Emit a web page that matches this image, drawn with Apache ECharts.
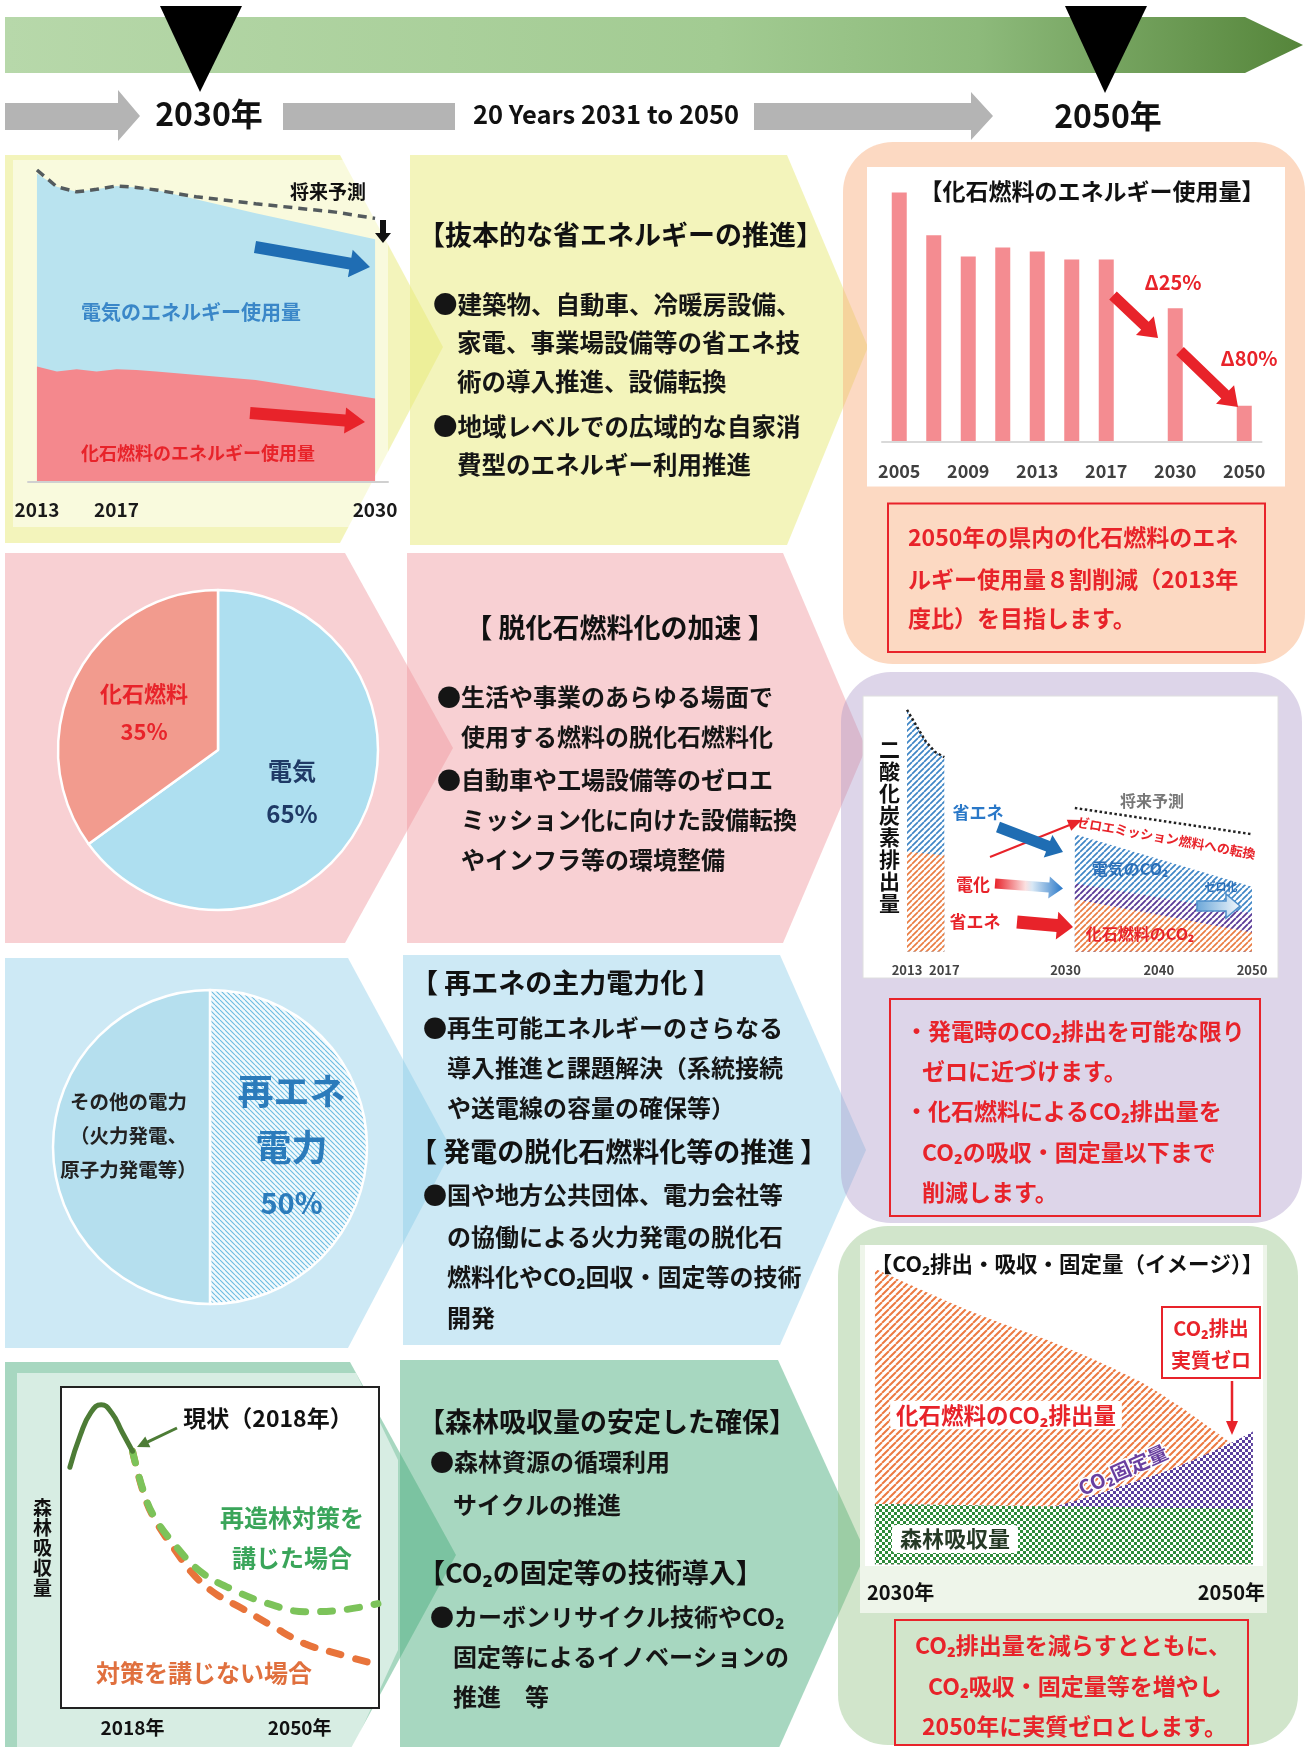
<!DOCTYPE html>
<html>
<head>
<meta charset="utf-8">
<script src="https://cdn.jsdelivr.net/npm/echarts@6.0.0/dist/echarts.min.js"></script>
<style>
  html, body { margin: 0; padding: 0; background: #fff; }
  #main { width: 1306px; height: 1747px; }
</style>
</head>
<body>
<div id="main"></div>
<script>
// ---- data ----
// energy use 2013-2030 (index, 2013 total = ~100)
const useYears = [2013, 2014, 2015, 2016, 2017, 2018, 2019, 2024, 2030];
const useTotal = [98.9, 94.6, 93.0, 93.8, 94.9, 94.4, 93.6, 86.1, 77.8];
const useFossil = [37.0, 35.4, 36.1, 35.4, 36.1, 35.9, 35.4, 32.7, 26.8];
const outlookYears = [2013, 2014, 2015, 2016, 2017, 2018, 2019, 2021, 2024, 2028, 2030];
const outlookValues = [100, 94.6, 93.0, 93.8, 94.9, 94.4, 93.6, 91.4, 89.2, 86.5, 84.5];

// fossil fuel energy use bars (2013 = 100)
const barCats = ['2005', '2007', '2009', '2011', '2013', '2015', '2017', '', '2030', '', '2050'];
const barValues = [131.1, 108.6, 97.4, 102.2, 100, 95.9, 95.9, null, 70.2, null, 19.0];

// energy share pies
const shareNames = ['電気', '化石燃料'];
const shareValues = [65, 35];
const powerNames = ['再エネ電力', 'その他の電力'];
const powerValues = [50, 50];

// CO2 emissions image (purple panel)
const co2HistYears = [2013, 2014, 2015, 2016, 2017];
const co2HistTotal = [96.1, 89.8, 83.6, 79.4, 77.3];
const co2HistFossilYears = [2013, 2017];
const co2HistFossil = [39.7, 38.3];
const co2FutYears = [2031, 2050];
const co2FutTotal = [46.7, 25.8];
const co2FutMid = [27.2, 15.3];
const co2FutFossil = [20.9, 7.7];
const co2OutlookYears = [2031, 2050];
const co2Outlook = [57.1, 46.7];
const co2Ticks = [2013, 2017, 2030, 2040, 2050];

// forest absorption
const forestPastYears = [2006, 2008, 2010, 2012, 2014, 2016, 2018];
const forestPast = [75, 85, 92, 94.5, 92, 86, 80];
const reforestYears = [2018, 2020, 2022, 2026, 2031, 2037, 2044, 2051, 2058, 2065];
const reforest = [80, 68, 60, 51, 42.5, 37, 32.5, 30, 30.5, 32.5];
const noActionYears = [2018, 2020, 2022, 2026, 2030, 2034, 2039, 2045, 2051, 2056, 2065];
const noAction = [80, 67.5, 59.5, 49.5, 41, 35.5, 31, 25.3, 20, 17.5, 13.4];
const forestTicks = [2018, 2050];

// CO2 emission / absorption / fixation image (green panel)
const emitYears = [2030, 2035, 2040, 2044, 2046, 2048, 2049, 2050];
const emitTop = [97.8, 83.9, 72, 60.6, 52.8, 44, 39.5, 36];
const fixYears = [2030, 2035, 2039, 2041, 2044, 2046, 2049, 2050];
const fixTop = [20, 19.5, 19, 21.8, 27.9, 32.3, 40.7, 44];
const sinkYears = [2030, 2035, 2040, 2045, 2050];
const sinkValues = [20, 19.6, 19.2, 18.8, 18.4];
const fixRange = [2029.58, 2050.64];
const fixTickLabels = ['2030年', '2050年'];

// ---- helpers ----
const JP = '"Noto Sans CJK JP", "Noto Sans", sans-serif';
const RED = '#e8232a';
const zip = (xs, ys) => xs.map((x, i) => [x, ys[i]]);

function hatch(bg, fg, size, lw, dir) {
  const c = document.createElement('canvas');
  c.width = c.height = size;
  const g = c.getContext('2d');
  g.fillStyle = bg; g.fillRect(0, 0, size, size);
  g.strokeStyle = fg; g.lineWidth = lw; g.beginPath();
  [-size, 0, size].forEach(k => {
    if (dir > 0) { g.moveTo(k, size); g.lineTo(k + size, 0); }
    else { g.moveTo(k, 0); g.lineTo(k + size, size); }
  });
  g.stroke();
  return { image: c, repeat: 'repeat' };
}
function checker(bg, fg, cell) {
  const c = document.createElement('canvas');
  c.width = c.height = cell * 2;
  const g = c.getContext('2d');
  g.fillStyle = bg; g.fillRect(0, 0, cell * 2, cell * 2);
  g.fillStyle = fg; g.fillRect(0, 0, cell, cell); g.fillRect(cell, cell, cell, cell);
  return { image: c, repeat: 'repeat' };
}
const pat = {
  blue: hatch('#ffffff', '#3f86c6', 6, 1.7, 1),
  orange: hatch('#ffffff', '#ea7d42', 6, 1.7, 1),
  purple: hatch('#ffffff', '#5b3c98', 6, 1.9, 1),
  fixOrange: hatch('#ffffff', '#ec7a42', 7, 2, 1),
  fixPurple: checker('#ffffff', '#5a3f9e', 3),
  fixGreen: checker('#ffffff', '#2e8b3a', 3),
  pie: hatch('#f2fafd', '#6cbce2', 5, 1.1, -1)
};

function text(x, y, t, size, color, align, more) {
  const style = Object.assign({
    text: t, font: 'bold ' + size + 'px ' + JP, fill: color || '#111',
    textAlign: align || 'left', align: align || 'left',
    textVerticalAlign: 'middle', verticalAlign: 'middle'
  }, more || {});
  return { type: 'text', x: x, y: y, z: 10, silent: true, style: style };
}
function poly(points, fill, z, extra) {
  return { type: 'polygon', z: z || 0, silent: true, shape: { points: points }, style: Object.assign({ fill: fill }, extra || {}) };
}
function rect(x, y, w, h, style, z, r) {
  return { type: 'rect', z: z || 0, silent: true, shape: { x: x, y: y, width: w, height: h, r: r || 0 }, style: style };
}
function arrow(x1, y1, x2, y2, sw, hw, hl, fill, z, extra) {
  const dx = x2 - x1, dy = y2 - y1, L = Math.hypot(dx, dy);
  const ux = dx / L, uy = dy / L, nx = -uy, ny = ux;
  const bx = x2 - ux * hl, by = y2 - uy * hl;
  const p = [
    [x1 + nx * sw / 2, y1 + ny * sw / 2], [bx + nx * sw / 2, by + ny * sw / 2],
    [bx + nx * hw / 2, by + ny * hw / 2], [x2, y2],
    [bx - nx * hw / 2, by - ny * hw / 2], [bx - nx * sw / 2, by - ny * sw / 2],
    [x1 - nx * sw / 2, y1 - ny * sw / 2]
  ];
  return poly(p, fill, z || 10, extra);
}
function lines(arr, size, color) {
  return arr.map(l => text(l[1], l[2], l[0], size, color));
}

// ---- backgrounds and decorations ----
const g = [];
// timeline banner
g.push(poly([[5, 17], [1245, 17], [1303, 45], [1245, 73], [5, 73]], {
  type: 'linear', x: 0, y: 0, x2: 1, y2: 0,
  colorStops: [{ offset: 0, color: '#b7d8aa' }, { offset: 0.55, color: '#a2cb92' }, { offset: 0.75, color: '#8dba7b' }, { offset: 1, color: '#55853a' }]
}, 1));
g.push(poly([[160, 6], [242, 6], [200, 92]], '#000', 2));
g.push(poly([[1065, 6], [1147, 6], [1105, 93]], '#000', 2));
g.push(poly([[5, 103], [118, 103], [118, 90], [140, 116], [118, 141], [118, 130], [5, 130]], '#b4b4b4', 1));
g.push(rect(283, 103, 172, 27, { fill: '#b4b4b4' }, 1));
g.push(poly([[754, 103], [971, 103], [971, 92], [993, 116], [971, 140], [971, 130], [754, 130]], '#b4b4b4', 1));
g.push(text(209, 114, '2030年', 32, '#111', 'center'));
g.push(text(606, 114, '20 Years 2031 to 2050', 25.5, '#111', 'center'));
g.push(text(1108, 116, '2050年', 32, '#111', 'center'));

// row panels
const yel = 'rgba(232,234,120,0.5)', pink = 'rgba(240,150,158,0.45)', blu = 'rgba(130,200,230,0.4)', grn = 'rgba(80,175,130,0.5)';
g.push(poly([[5, 155], [340, 155], [443, 347], [340, 543], [5, 543]], yel));
g.push(poly([[410, 155], [787, 155], [868, 347], [787, 545], [410, 545]], yel));
g.push(rect(13, 160, 375, 367, { fill: 'rgba(255,255,255,0.5)' }));
g.push(poly([[5, 553], [345, 553], [453, 748], [345, 943], [5, 943]], pink));
g.push(poly([[407, 553], [783, 553], [866, 748], [783, 943], [407, 943]], pink));
g.push(poly([[5, 958], [348, 958], [452, 1150], [348, 1348], [5, 1348]], blu));
g.push(poly([[403, 955], [780, 955], [866, 1150], [780, 1345], [403, 1345]], blu));
g.push(poly([[5, 1362], [350, 1362], [456, 1555], [350, 1750], [5, 1750]], grn));
g.push(poly([[400, 1360], [778, 1360], [866, 1553], [778, 1750], [400, 1750]], grn));
g.push(poly([[17, 1373], [356, 1373], [398, 1460], [398, 1650], [352, 1750], [17, 1750]], 'rgba(255,255,255,0.55)'));

// right column boxes
g.push(rect(843, 142, 462, 522, { fill: 'rgba(248,170,120,0.45)' }, 0, 50));
g.push(rect(841, 672, 461, 551, { fill: 'rgba(170,150,200,0.4)' }, 0, 50));
g.push(rect(838, 1226, 460, 519, { fill: 'rgba(140,190,125,0.4)' }, 0, 50));
g.push(rect(867, 167, 418, 319.5, { fill: '#fff' }, 1));
g.push(rect(863, 696, 415, 282, { fill: '#fff', stroke: '#dedede', lineWidth: 1 }, 1));
g.push(rect(860, 1245, 407, 368, { fill: '#eef5ea' }, 1));
g.push(rect(865, 1245, 398, 321, { fill: '#fff' }, 1));
g.push(rect(61, 1387, 318, 321, { fill: '#fff', stroke: '#222', lineWidth: 2 }, 1));

// row 1 left chart notes
g.push(text(328, 192, '将来予測', 19, '#111', 'center'));
g.push(arrow(383, 220, 383, 243, 6, 16, 10, '#111'));
g.push(text(191, 312, '電気のエネルギー使用量', 20, '#3a87c8', 'center'));
g.push(text(198, 453, '化石燃料のエネルギー使用量', 18, RED, 'center'));
g.push(arrow(255, 247, 370, 267, 12, 28, 20, '#1f6db3'));
g.push(arrow(250, 413, 365, 422, 12, 26, 20, RED));

// row 1 text
g.push(text(418, 235, '【抜本的な省エネルギーの推進】', 27, '#111'));
g.push(...lines([
  ['●建築物、自動車、冷暖房設備、', 433, 305],
  ['家電、事業場設備等の省エネ技', 457, 343],
  ['術の導入推進、設備転換', 457, 382],
  ['●地域レベルでの広域的な自家消', 433, 427],
  ['費型のエネルギー利用推進', 457, 465]
], 24.5, '#151515'));

// bar chart notes
g.push(text(1092, 191, '【化石燃料のエネルギー使用量】', 23, '#111', 'center'));
g.push(text(1173, 282, 'Δ25%', 20, RED, 'center'));
g.push(text(1249, 358, 'Δ80%', 20, RED, 'center'));
g.push(arrow(1113, 295.5, 1158, 338, 11, 26, 18, RED));
g.push(arrow(1180, 351, 1238, 407, 11, 26, 18, RED));
g.push(rect(888, 503.5, 377, 148.5, { fill: 'none', stroke: RED, lineWidth: 2 }, 10));
g.push(...lines([
  ['2050年の県内の化石燃料のエネ', 908, 537],
  ['ルギー使用量８割削減（2013年', 908, 579.5],
  ['度比）を目指します。', 908, 618.5]
], 23, RED));

// row 2 text
g.push(text(620, 628, '【 脱化石燃料化の加速 】', 27, '#111', 'center'));
g.push(...lines([
  ['●生活や事業のあらゆる場面で', 437, 697],
  ['使用する燃料の脱化石燃料化', 461, 737],
  ['●自動車や工場設備等のゼロエ', 437, 780],
  ['ミッション化に向けた設備転換', 461, 820],
  ['やインフラ等の環境整備', 461, 860]
], 24, '#151515'));

// CO2 image notes (purple panel)
g.push(rect(1150, 845, 104, 80, {
  fill: { type: 'linear', x: 0, y: 0, x2: 1, y2: 0, colorStops: [{ offset: 0, color: 'rgba(255,255,255,0)' }, { offset: 1, color: 'rgba(255,255,255,0.8)' }] }
}, 3));
g.push(text(1152, 801, '将来予測', 16, '#777', 'center'));
g.push(arrow(990, 857, 1082, 820, 2, 12, 14, RED));
g.push(text(1166, 838, 'ゼロエミッション燃料への転換', 13, RED, 'center'));
g[g.length - 1].rotation = -0.18;
g.push(text(978, 813, '省エネ', 17, '#2a78c8', 'center'));
g.push(arrow(998, 827, 1063, 852, 11, 24, 16, '#1f6db3'));
g.push(text(973, 885, '電化', 17, RED, 'center'));
g.push(arrow(995, 883.5, 1063, 888.5, 10, 22, 14, {
  type: 'linear', x: 0, y: 0, x2: 1, y2: 0,
  colorStops: [{ offset: 0, color: RED }, { offset: 0.45, color: '#fbe0e0' }, { offset: 0.55, color: '#d8e8f5' }, { offset: 1, color: '#2a78c8' }]
}));
g.push(text(975, 922, '省エネ', 17, RED, 'center'));
g.push(arrow(1017, 922, 1073, 927, 13, 28, 16, RED));
g.push(text(1130, 869, '電気のCO₂', 16, '#2a6fb8', 'center'));
g.push(text(1140, 934, '化石燃料のCO₂', 16, RED, 'center'));
g.push(text(1221, 887, 'ゼロ化', 11, '#2a6fb8', 'center'));
g.push(arrow(1197, 906, 1240, 906, 10, 24, 14, {
  type: 'linear', x: 0, y: 0, x2: 1, y2: 0,
  colorStops: [{ offset: 0, color: '#6aa6d8' }, { offset: 1, color: '#f4f9fd' }]
}, 10, { stroke: '#4f8fca', lineWidth: 1.5 }));
g.push(rect(890, 999, 370, 217, { fill: 'none', stroke: RED, lineWidth: 2 }, 10));
g.push(...lines([
  ['・発電時のCO₂排出を可能な限り', 905, 1031],
  ['ゼロに近づけます。', 922, 1071],
  ['・化石燃料によるCO₂排出量を', 905, 1111.5],
  ['CO₂の吸収・固定量以下まで', 922, 1152],
  ['削減します。', 922, 1192]
], 23, RED));

// row 3 text
g.push(...lines([
  ['【 再エネの主力電力化 】', 411, 983],
  ['【 発電の脱化石燃料化等の推進 】', 410, 1152]
], 27, '#111'));
g.push(...lines([
  ['●再生可能エネルギーのさらなる', 423, 1028],
  ['導入推進と課題解決（系統接続', 447, 1068],
  ['や送電線の容量の確保等）', 447, 1108],
  ['●国や地方公共団体、電力会社等', 423, 1195],
  ['の協働による火力発電の脱化石', 447, 1237],
  ['燃料化やCO₂回収・固定等の技術', 447, 1277],
  ['開発', 447, 1318]
], 24, '#151515'));

// forest chart notes
g.push(text(268, 1418, '現状（2018年）', 23, '#111', 'center'));
g.push(arrow(177, 1428, 137, 1447, 3, 12, 12, '#4d7c36'));
g.push(text(292, 1518, '再造林対策を', 24, '#3aa55a', 'center'));
g.push(text(292, 1558, '講じた場合', 24, '#3aa55a', 'center'));
g.push(text(204, 1673, '対策を講じない場合', 24, '#e0703e', 'center'));

// row 4 text
g.push(...lines([
  ['【森林吸収量の安定した確保】', 418, 1422],
  ['【CO₂の固定等の技術導入】', 418, 1573]
], 27, '#111'));
g.push(...lines([
  ['●森林資源の循環利用', 430, 1462],
  ['サイクルの推進', 453, 1505],
  ['●カーボンリサイクル技術やCO₂', 430, 1617],
  ['固定等によるイノベーションの', 453, 1657],
  ['推進　等', 453, 1697]
], 24, '#151515'));

// CO2 fixation image notes
g.push(text(1067, 1264, '【CO₂排出・吸収・固定量（イメージ）】', 21.5, '#111', 'center'));
g.push(text(1006, 1415, '化石燃料のCO₂排出量', 22.5, RED, 'center', { backgroundColor: '#fff', padding: [3, 6], borderRadius: 4 }));
g.push(text(955, 1539, '森林吸収量', 22, '#263a26', 'center', { backgroundColor: '#fff', padding: [3, 8], borderRadius: 4 }));
g.push(text(1123, 1470, 'CO₂固定量', 20, '#6a3fa0', 'center', { stroke: '#fff', lineWidth: 3 }));
g[g.length - 1].rotation = 0.42;
g.push(rect(1162, 1307, 98, 71, { fill: '#fff', stroke: RED, lineWidth: 2 }, 10));
g.push(text(1211, 1328, 'CO₂排出', 20, RED, 'center'));
g.push(text(1211, 1360, '実質ゼロ', 20, RED, 'center'));
g.push(arrow(1232, 1381, 1232, 1435, 2.5, 12, 14, RED));
g.push(rect(895, 1620, 353, 125, { fill: 'none', stroke: RED, lineWidth: 2 }, 10));
g.push(...lines([
  ['CO₂排出量を減らすとともに、', 915, 1645],
  ['CO₂吸収・固定量等を増やし', 928, 1686],
  ['2050年に実質ゼロとします。', 922, 1726]
], 23, RED));

// ---- axes ----
const hidden = { axisLine: { show: false }, axisTick: { show: false }, axisLabel: { show: false }, splitLine: { show: false } };
const lbl = (size, color, margin) => ({ fontSize: size, fontWeight: 'bold', color: color, fontFamily: JP, margin: margin });

const grids = [
  { left: 28, top: 170, width: 360, height: 312 },
  { left: 882, top: 175.5, width: 379.5, height: 266.4 },
  { left: 907, top: 700, width: 345, height: 251.8 },
  { left: 61, top: 1387, width: 318, height: 321 },
  { left: 867, top: 1262, width: 398, height: 302.5 }
].map(gr => Object.assign({ outerBoundsMode: 'none', containLabel: false }, gr));

const xAxes = [
  { gridIndex: 0, type: 'value', min: 2012.55, max: 2030.65, z: 4,
    axisLine: { lineStyle: { color: '#d0d0d0', width: 2 } }, axisTick: { show: false }, splitLine: { show: false },
    axisLabel: Object.assign(lbl(19, '#1a1a1a', 18), { customValues: [2013, 2017, 2030], formatter: v => String(v) }) },
  { gridIndex: 1, type: 'category', data: barCats, z: 4,
    axisLine: { lineStyle: { color: '#d9d9d9', width: 2 } }, axisTick: { show: false },
    axisLabel: Object.assign(lbl(18, '#404040', 20), { interval: 1 }) },
  { gridIndex: 2, type: 'value', min: 2013, max: 2050, z: 4,
    axisLine: { show: false }, axisTick: { show: false }, splitLine: { show: false },
    axisLabel: Object.assign(lbl(13, '#444', 12), { customValues: co2Ticks, formatter: v => String(v) }) },
  { gridIndex: 3, type: 'value', min: 2004.3, max: 2065.2, z: 4,
    axisLine: { show: false }, axisTick: { show: false }, splitLine: { show: false },
    axisLabel: Object.assign(lbl(19, '#111', 10), { customValues: forestTicks, formatter: v => v + '年' }) },
  { gridIndex: 4, type: 'value', min: fixRange[0], max: fixRange[1], z: 4,
    axisLine: { show: false }, axisTick: { show: false }, splitLine: { show: false },
    axisLabel: Object.assign(lbl(20, '#111', 18), { customValues: fixRange, formatter: v => fixTickLabels[v === fixRange[0] ? 0 : 1], alignMinLabel: 'left', alignMaxLabel: 'right' }) }
];
const yName = (name, gap, size) => ({
  name: name.split('').join('\n'), nameLocation: 'middle', nameGap: gap, nameRotate: 0,
  nameTextStyle: { fontSize: size, fontWeight: 'bold', fontFamily: JP, color: '#111', lineHeight: size + 1 }
});
const yAxes = [
  { gridIndex: 0, type: 'value', min: 0, max: 100, show: false },
  { gridIndex: 1, type: 'value', min: 0, max: 140, show: false },
  Object.assign({ gridIndex: 2, type: 'value', min: 0, max: 100, z: 4 }, hidden, yName('二酸化炭素排出量', 7, 21)),
  Object.assign({ gridIndex: 3, type: 'value', min: 0, max: 100, z: 4 }, hidden, yName('森林吸収量', 9, 19)),
  { gridIndex: 4, type: 'value', min: 0, max: 100, show: false }
];

// ---- series ----
const ln = (ax, data, extra) => Object.assign({
  type: 'line', xAxisIndex: ax, yAxisIndex: ax, data: data, symbol: 'none', silent: true
}, extra);
const area = (ax, data, fill, extra) => ln(ax, data, Object.assign({ lineStyle: { width: 0 }, areaStyle: { color: fill, opacity: 1 } }, extra));

const series = [
  area(0, zip(useYears, useTotal), '#b9e3ef'),
  area(0, zip(useYears, useFossil), '#f4888d'),
  ln(0, zip(outlookYears, outlookValues), { z: 3, lineStyle: { width: 3.5, color: '#545b5e', type: [9, 6] } }),
  { type: 'bar', xAxisIndex: 1, yAxisIndex: 1, data: barValues, barWidth: 15, silent: true, itemStyle: { color: '#f48c91' } },

  area(2, zip(co2HistYears, co2HistTotal), pat.blue),
  area(2, zip(co2HistFossilYears, co2HistFossil), pat.orange),
  area(2, zip(co2FutYears, co2FutTotal), pat.blue),
  area(2, zip(co2FutYears, co2FutMid), pat.purple),
  area(2, zip(co2FutYears, co2FutFossil), pat.orange),
  ln(2, zip(co2HistYears, co2HistTotal), { z: 4, lineStyle: { width: 2.5, color: '#222', type: 'dotted' } }),
  ln(2, zip(co2OutlookYears, co2Outlook), { z: 4, lineStyle: { width: 2.5, color: '#222', type: 'dotted' } }),

  ln(3, zip(noActionYears, noAction), { smooth: 0.4, lineStyle: { width: 7, color: '#e8743b', type: [12, 15], cap: 'round' } }),
  ln(3, zip(reforestYears, reforest), { smooth: 0.4, lineStyle: { width: 7, color: '#7cc35a', type: [12, 15], cap: 'round' } }),
  ln(3, zip(forestPastYears, forestPast), { smooth: 0.5, lineStyle: { width: 5, color: '#4d7c36', cap: 'round' } }),

  area(4, zip(emitYears, emitTop), pat.fixOrange, { smooth: 0.3 }),
  area(4, zip(fixYears, fixTop), pat.fixPurple, { smooth: 0.3 }),
  area(4, zip(sinkYears, sinkValues), pat.fixGreen),

  { type: 'pie', center: [218, 750], radius: 160, startAngle: 90, clockwise: true, silent: true,
    itemStyle: { borderColor: '#fff', borderWidth: 2.5 }, labelLine: { show: false },
    label: { show: true, position: 'inside', fontFamily: JP, fontWeight: 'bold' },
    data: [
      { name: shareNames[0], value: shareValues[0], itemStyle: { color: '#aedff0' },
        label: { formatter: p => '{s| }\n{v|' + p.name + '}\n{v|' + p.value + '%}',
          rich: { s: { fontSize: 6, lineHeight: 10 },
                  v: { fontSize: 24, fontWeight: 'bold', color: '#1f3a66', lineHeight: 43, fontFamily: JP } } } },
      { name: shareNames[1], value: shareValues[1], itemStyle: { color: '#f29b8e' },
        label: { formatter: p => p.name + '\n' + p.value + '%', color: RED, fontSize: 22, lineHeight: 38 } }
    ] },
  { type: 'pie', center: [210, 1147], radius: 157, startAngle: 90, clockwise: true, silent: true,
    itemStyle: { borderColor: '#fff', borderWidth: 2.5 }, labelLine: { show: false },
    label: { show: true, position: 'inside', fontFamily: JP, fontWeight: 'bold' },
    data: [
      { name: powerNames[0], value: powerValues[0], itemStyle: { color: pat.pie },
        label: { formatter: p => '{a|再エネ}\n{a|電力}\n{b|' + p.value + '%}',
          rich: { a: { fontSize: 36, fontWeight: 'bold', color: '#2b7bbb', lineHeight: 56, fontFamily: JP },
                  b: { fontSize: 29, fontWeight: 'bold', color: '#2b7bbb', lineHeight: 56, fontFamily: JP } } } },
      { name: powerNames[1], value: powerValues[1], itemStyle: { color: '#b5dfee' },
        label: { formatter: () => '{t|その他の電力}\n{t|（火力発電、}\n{t|原子力発電等）}\n{s| }',
          rich: { t: { fontSize: 19.5, fontWeight: 'bold', color: '#222', lineHeight: 34, fontFamily: JP },
                  s: { fontSize: 6, lineHeight: 22 } } } }
    ] }
];

const chart = echarts.init(document.getElementById('main'), null, { renderer: 'canvas' });
chart.setOption({
  animation: false,
  backgroundColor: '#fff',
  grid: grids,
  xAxis: xAxes,
  yAxis: yAxes,
  series: series,
  graphic: { elements: g }
});
</script>
</body>
</html>
